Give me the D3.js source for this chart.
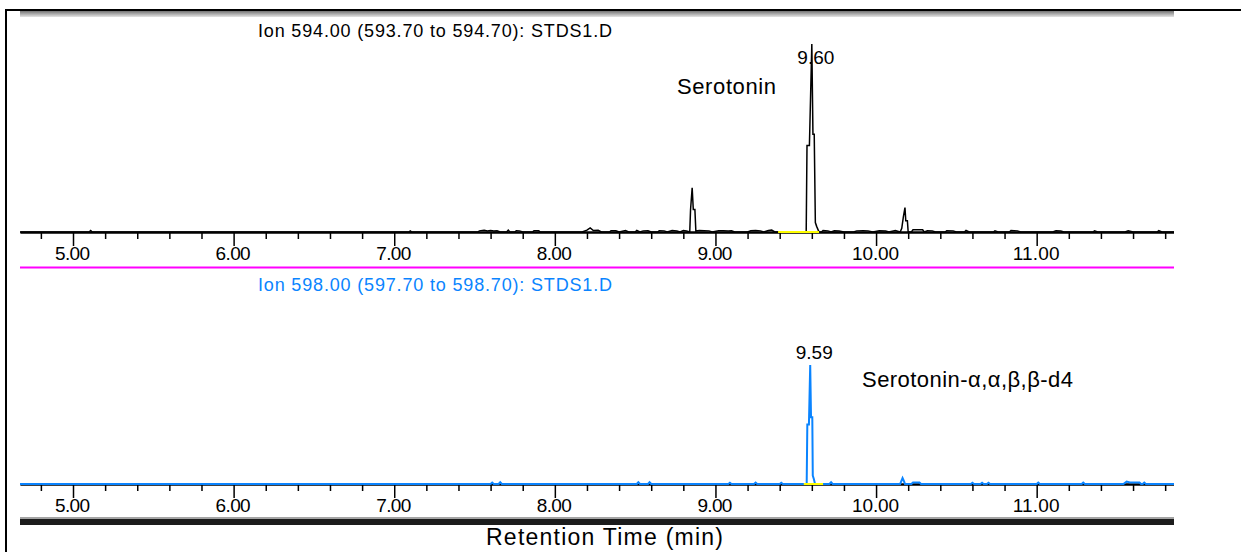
<!DOCTYPE html>
<html>
<head>
<meta charset="utf-8">
<script src="https://cdn.jsdelivr.net/npm/d3@7"></script>
<style>
  html, body { margin: 0; padding: 0; background: #fff; }
  svg { display: block; }
</style>
</head>
<body>
<svg id="chart" width="1241" height="552"></svg>
<script>
// ---- Ion 594 trace (Serotonin): retention time (min) / relative abundance (% of the 9.60 peak)
const ion594Time = [
  4.67, 5.10, 5.11, 5.12, 7.09, 7.10, 7.11,
  7.52, 7.53, 7.56, 7.58, 7.60, 7.62, 7.64, 7.66, 7.70, 7.71, 7.72, 7.75, 7.76, 7.78, 7.80,
  7.86, 7.87, 7.90, 7.91,
  8.17, 8.20, 8.22, 8.24, 8.27, 8.29, 8.34, 8.35, 8.38, 8.40, 8.44, 8.46, 8.50, 8.51, 8.53,
  8.55, 8.58, 8.60, 8.64, 8.65, 8.68, 8.70, 8.73, 8.76, 8.78, 8.80, 8.82, 8.840,
  8.845, 8.855, 8.862, 8.872, 8.878, 8.90, 8.93, 8.96, 8.98, 9.02, 9.05, 9.08, 9.10, 9.12,
  9.20, 9.22, 9.25, 9.28, 9.30, 9.33, 9.35, 9.37,
  9.565, 9.570, 9.585, 9.600, 9.607, 9.615, 9.622, 9.630, 9.645,
  9.66, 9.67, 9.70, 9.72, 9.74, 9.77, 9.80, 9.86, 9.88, 9.92, 9.95, 9.98, 10.02, 10.06, 10.08,
  10.12, 10.15, 10.16, 10.17, 10.18, 10.185, 10.195, 10.20,
  10.22, 10.23, 10.29, 10.30, 10.32, 10.35, 10.37, 10.43, 10.44, 10.48, 10.50, 10.55, 10.56, 10.58,
  10.73, 10.74, 10.76, 10.83, 10.84, 10.88, 10.90, 11.10, 11.12, 11.15, 11.17,
  11.35, 11.36, 11.38, 11.55, 11.57, 11.60, 11.75, 11.76, 11.78, 11.86
];
const ion594Abund = [
  0, 0, 0.8, 0, 0, 0.6, 0,
  0, 0.6, 0.9, 0.5, 0.8, 0.5, 0.7, 0, 0, 1.0, 0, 0, 0.7, 0.6, 0,
  0, 0.6, 0.6, 0,
  0, 1.0, 2.2, 0.8, 0.9, 0, 0, 0.7, 0.7, 0, 0.8, 0, 0, 0.8, 0,
  0.6, 0.7, 0, 0, 0.7, 0.6, 0, 0.8, 0.5, 0, 0.8, 0.5, 0,
  12, 23.5, 12, 12, 0.5, 0.8, 0.7, 0.6, 0, 0.6, 0.7, 0.5, 0.7, 0,
  0, 0.7, 0.8, 0.6, 0, 0.8, 1.0, 0,
  0, 46, 46, 100, 52, 52, 5, 3, 0,
  0, 0.8, 0.6, 0, 0.7, 0.5, 0, 0, 0.6, 0.7, 0.6, 0, 0.7, 0.5, 0,
  0.8, 0, 2, 8, 13, 6, 6, 0,
  0, 1.2, 1.2, 0, 0.7, 0.6, 0, 0, 0.7, 0.6, 0, 0, 0.8, 0,
  0, 0.6, 0, 0, 0.8, 0.6, 0, 0, 0.7, 0.5, 0,
  0, 0.6, 0, 0, 0.7, 0, 0, 0.7, 0, 0
];

// ---- Ion 598 trace (Serotonin-d4): retention time (min) / relative abundance (% of the 9.59 peak)
const ion598Time = [
  4.67, 7.60, 7.61, 7.62, 7.65, 7.66, 7.67,
  8.51, 8.52, 8.53, 8.58, 8.59, 8.60,
  9.08, 9.09, 9.10, 9.24, 9.25, 9.26, 9.40, 9.41, 9.42,
  9.568, 9.572, 9.582, 9.590, 9.595, 9.603, 9.606, 9.613, 9.620,
  9.71, 9.72, 9.73,
  10.15, 10.165, 10.175, 10.18, 10.22, 10.23, 10.27, 10.28,
  10.59, 10.60, 10.61, 10.65, 10.66, 10.67, 10.69, 10.70, 10.71,
  11.00, 11.01, 11.02, 11.28, 11.29, 11.30,
  11.54, 11.56, 11.58, 11.64, 11.65, 11.66, 11.67, 11.68, 11.86
];
const ion598Abund = [
  0, 0, 1.2, 0, 0, 1.5, 0,
  0, 1.5, 0, 0, 1.5, 0,
  0, 1.0, 0, 0, 1.2, 0, 0, 1.0, 0,
  0, 50, 50, 100, 56, 56, 7, 4, 0,
  0, 1.5, 0,
  0, 5, 2, 0, 0, 1.3, 1.3, 0,
  0, 1.0, 0, 0, 1.0, 0, 0, 1.0, 0,
  0, 1.2, 0, 0, 1.2, 0,
  0, 2, 1.2, 1.2, 0, 0, 1.2, 0, 0
];

// ---- axis ticks
const majorTicks = [5, 6, 7, 8, 9, 10, 11, 12];
const tickLabels = ["5.00", "6.00", "7.00", "8.00", "9.00", "10.00", "11.00", "12.00"];
const minorTicks = [
  4.8, 5.2, 5.4, 5.6, 5.8, 6.2, 6.4, 6.6, 6.8, 7.2, 7.4, 7.6, 7.8,
  8.2, 8.4, 8.6, 8.8, 9.2, 9.4, 9.6, 9.8, 10.2, 10.4, 10.6, 10.8,
  11.2, 11.4, 11.6, 11.8
];

// ---- annotations
const peakTimes = [9.60, 9.59];
const peakLabels = ["9.60", "9.59"];
const integStart = [9.39, 9.55];
const integEnd = [9.645, 9.67];
const traceTitles = [
  "Ion 594.00 (593.70 to 594.70): STDS1.D",
  "Ion 598.00 (597.70 to 598.70): STDS1.D"
];
const compoundNames = ["Serotonin", "Serotonin-\u03B1,\u03B1,\u03B2,\u03B2-d4"];
const axisTitle = "Retention Time (min)";

// ---- layout
const W = 1241, H = 552;
const FONT = "Arial, 'Liberation Sans', sans-serif";
const NARROW = "'Liberation Sans Narrow', 'Arial Narrow', Arial, 'Liberation Sans', sans-serif";
const svg = d3.select("#chart");

const x = d3.scaleLinear().domain([4.67, 11.855]).range([20, 1174]);
const yTop = d3.scaleLinear().domain([0, 100]).range([232, 44]);
const yBot = d3.scaleLinear().domain([0, 100]).range([484, 365]);

const defs = svg.append("defs");
defs.append("clipPath").attr("id", "plotClip")
  .append("rect").attr("x", 20).attr("y", 0).attr("width", 1154).attr("height", H);
const shade = defs.append("linearGradient").attr("id", "barShade")
  .attr("x1", 0).attr("y1", 0).attr("x2", 0).attr("y2", 1);
shade.append("stop").attr("offset", "0%").attr("stop-color", "#747474");
shade.append("stop").attr("offset", "100%").attr("stop-color", "#e4e4e4");

// page frame
svg.append("rect").attr("x", 5).attr("y", 9).attr("width", 2).attr("height", H - 9).attr("fill", "#000");
svg.append("rect").attr("x", 5).attr("y", 9).attr("width", W - 5).attr("height", 2).attr("fill", "#000");

// window header / footer bars
svg.append("rect").attr("x", 20).attr("y", 11).attr("width", 1154).attr("height", 6)
  .attr("fill", "url(#barShade)");
svg.append("rect").attr("x", 20).attr("y", 517).attr("width", 1154).attr("height", 2)
  .attr("fill", "#a4a4a4");
svg.append("rect").attr("x", 20).attr("y", 519).attr("width", 1154).attr("height", 6)
  .attr("fill", "#1c1c1c");

// separator between the two ion traces
svg.append("line").attr("x1", 20).attr("x2", 1174).attr("y1", 267.5).attr("y2", 267.5)
  .attr("stroke", "#ff00ff").attr("stroke-width", 2);

function drawPanel(p) {
  const g = svg.append("g").attr("clip-path", "url(#plotClip)");
  const base = p.y(0);

  // trace title
  g.append("text")
    .attr("x", 258).attr("y", p.titleY)
    .attr("textLength", 354).attr("lengthAdjust", "spacing")
    .attr("font-family", NARROW).attr("font-size", 18)
    .attr("fill", p.titleColor)
    .text(p.title);

  // compound name
  svg.append("text")
    .attr("x", p.nameX).attr("y", p.nameY)
    .attr("textLength", p.nameLen).attr("lengthAdjust", "spacing")
    .attr("font-family", FONT).attr("font-size", 22)
    .attr("fill", "#000")
    .text(p.name);

  // peak retention time label
  g.append("text")
    .attr("x", x(p.peakTime) + 4).attr("y", p.peakLabelY)
    .attr("text-anchor", "middle")
    .attr("textLength", 37).attr("lengthAdjust", "spacing")
    .attr("font-family", NARROW).attr("font-size", 19)
    .attr("fill", "#000")
    .text(p.peakLabel);

  // axis: minor then major ticks
  const minorAxis = d3.axisBottom(x).tickValues(minorTicks)
    .tickSize(7).tickSizeOuter(0).tickFormat("");
  const majorAxis = d3.axisBottom(x).tickValues(majorTicks)
    .tickSize(14).tickSizeOuter(0).tickFormat((d, i) => tickLabels[i]);

  const gMinor = g.append("g").attr("transform", `translate(0,${base})`).call(minorAxis);
  const gMajor = g.append("g").attr("transform", `translate(0,${base})`).call(majorAxis);
  [gMinor, gMajor].forEach(a => {
    a.select(".domain").attr("stroke", "#000").attr("stroke-width", 2);
    a.selectAll(".tick line").attr("stroke", "#000").attr("stroke-width", 1.5);
  });
  gMajor.selectAll(".tick text")
    .attr("y", 28).attr("dy", null).attr("x", -1)
    .attr("textLength", (d, i) => tickLabels[i].length > 4 ? 47 : 35)
    .attr("lengthAdjust", "spacing")
    .attr("font-family", NARROW).attr("font-size", 19).attr("fill", "#000");

  // chromatogram trace
  const idx = d3.range(p.time.length);
  const line = d3.line().x(i => x(p.time[i])).y(i => p.y(p.abund[i]));
  g.append("path").datum(idx)
    .attr("d", line)
    .attr("fill", "none")
    .attr("stroke", p.color)
    .attr("stroke-width", p.width)
    .attr("stroke-linejoin", "miter");

  // integration baseline
  g.append("line")
    .attr("x1", x(p.integStart)).attr("x2", x(p.integEnd))
    .attr("y1", base).attr("y2", base)
    .attr("stroke", "#ffff00").attr("stroke-width", 2);
}

drawPanel({
  y: yTop, time: ion594Time, abund: ion594Abund, color: "#000", width: 1.5,
  title: traceTitles[0], titleColor: "#000", titleY: 37,
  name: compoundNames[0], nameX: 677, nameY: 94, nameLen: 99,
  peakTime: peakTimes[0], peakLabel: peakLabels[0], peakLabelY: 64,
  integStart: integStart[0], integEnd: integEnd[0]
});

drawPanel({
  y: yBot, time: ion598Time, abund: ion598Abund, color: "#0a84ff", width: 2,
  title: traceTitles[1], titleColor: "#0a84ff", titleY: 291,
  name: compoundNames[1], nameX: 862, nameY: 387, nameLen: 211,
  peakTime: peakTimes[1], peakLabel: peakLabels[1], peakLabelY: 359,
  integStart: integStart[1], integEnd: integEnd[1]
});

// x axis title
svg.append("text")
  .attr("x", 486).attr("y", 545)
  .attr("textLength", 237).attr("lengthAdjust", "spacing")
  .attr("font-family", FONT).attr("font-size", 23)
  .attr("fill", "#000")
  .text(axisTitle);
</script>
</body>
</html>
